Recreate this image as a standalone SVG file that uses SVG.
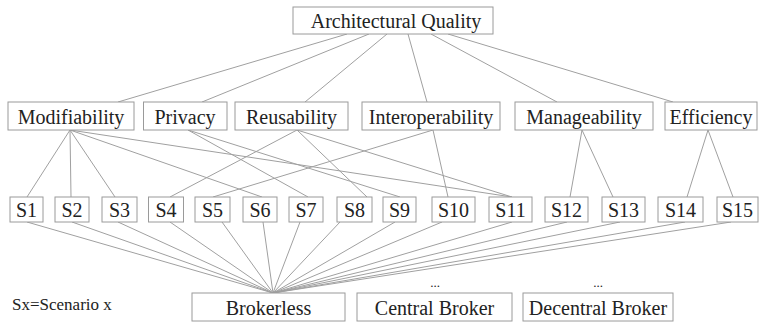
<svg xmlns="http://www.w3.org/2000/svg" width="760" height="324" viewBox="0 0 760 324">
<style>
rect{fill:#fff;stroke:#9a9a9a;stroke-width:1}
text{font-family:"Liberation Serif","Times New Roman",Times,"DejaVu Serif","Nimbus Roman","Noto Serif",serif;fill:#222;text-anchor:middle}
.t{font-size:20px}
.s{font-size:17px;text-anchor:start}
.d{font-size:13px}
#connectors line{stroke:#a0a0a0;stroke-width:1}
</style>
<rect x="0" y="0" width="760" height="324" style="fill:#fff;stroke:none"/>
<g id="connectors">
<line x1="347" y1="34" x2="118" y2="102"/>
<line x1="369" y1="34" x2="202" y2="102"/>
<line x1="387" y1="34" x2="305" y2="102"/>
<line x1="408" y1="34" x2="427" y2="102"/>
<line x1="431" y1="34" x2="557" y2="102"/>
<line x1="448" y1="34" x2="673" y2="102"/>
<line x1="70" y1="130" x2="27" y2="197"/>
<line x1="70" y1="130" x2="71" y2="197"/>
<line x1="70" y1="130" x2="115" y2="197"/>
<line x1="70" y1="130" x2="262" y2="197"/>
<line x1="70" y1="130" x2="512" y2="197"/>
<line x1="188" y1="130" x2="308" y2="197"/>
<line x1="188" y1="130" x2="400" y2="197"/>
<line x1="297" y1="130" x2="170" y2="197"/>
<line x1="297" y1="130" x2="367" y2="197"/>
<line x1="297" y1="130" x2="512" y2="197"/>
<line x1="433" y1="130" x2="213" y2="197"/>
<line x1="433" y1="130" x2="448" y2="197"/>
<line x1="582" y1="130" x2="570" y2="197"/>
<line x1="582" y1="130" x2="613" y2="197"/>
<line x1="708" y1="130" x2="687" y2="197"/>
<line x1="708" y1="130" x2="733" y2="197"/>
<line x1="27" y1="222" x2="273" y2="293"/>
<line x1="72" y1="222" x2="273" y2="293"/>
<line x1="118" y1="222" x2="273" y2="293"/>
<line x1="170" y1="222" x2="273" y2="293"/>
<line x1="222" y1="222" x2="273" y2="293"/>
<line x1="263" y1="222" x2="273" y2="293"/>
<line x1="300" y1="222" x2="273" y2="293"/>
<line x1="340" y1="222" x2="273" y2="293"/>
<line x1="395" y1="222" x2="273" y2="293"/>
<line x1="442" y1="222" x2="273" y2="293"/>
<line x1="512" y1="222" x2="273" y2="293"/>
<line x1="567" y1="222" x2="273" y2="293"/>
<line x1="620" y1="222" x2="273" y2="293"/>
<line x1="685" y1="222" x2="273" y2="293"/>
<line x1="731" y1="222" x2="273" y2="293"/>
</g>
<g id="aq"><rect x="293" y="7" width="200" height="27"/><text class="t" x="396" y="28">Architectural Quality</text></g>
<g id="modifiability"><rect x="8" y="102" width="126" height="28"/><text class="t" x="71" y="124">Modifiability</text></g>
<g id="privacy"><rect x="143.5" y="102" width="83.5" height="28"/><text class="t" x="185" y="124">Privacy</text></g>
<g id="reusability"><rect x="235" y="102" width="113" height="28"/><text class="t" x="291.5" y="124">Reusability</text></g>
<g id="interoperability"><rect x="362" y="102" width="138" height="28"/><text class="t" x="431" y="124">Interoperability</text></g>
<g id="manageability"><rect x="515" y="102" width="138" height="28"/><text class="t" x="584" y="124">Manageability</text></g>
<g id="efficiency"><rect x="665" y="102" width="92" height="28"/><text class="t" x="711" y="124">Efficiency</text></g>
<g id="s1"><rect x="10" y="197" width="33" height="25"/><text class="t" x="26.5" y="217">S1</text></g>
<g id="s2"><rect x="55" y="197" width="34" height="25"/><text class="t" x="72" y="217">S2</text></g>
<g id="s3"><rect x="102" y="197" width="35" height="25"/><text class="t" x="119.5" y="217">S3</text></g>
<g id="s4"><rect x="148.5" y="197" width="35" height="25"/><text class="t" x="166" y="217">S4</text></g>
<g id="s5"><rect x="195" y="197" width="35" height="25"/><text class="t" x="212.5" y="217">S5</text></g>
<g id="s6"><rect x="243" y="197" width="34" height="25"/><text class="t" x="260" y="217">S6</text></g>
<g id="s7"><rect x="289" y="197" width="34" height="25"/><text class="t" x="306" y="217">S7</text></g>
<g id="s8"><rect x="337" y="197" width="35" height="25"/><text class="t" x="354.5" y="217">S8</text></g>
<g id="s9"><rect x="383" y="197" width="33" height="25"/><text class="t" x="399.5" y="217">S9</text></g>
<g id="s10"><rect x="432" y="197" width="43" height="25"/><text class="t" x="453.5" y="217">S10</text></g>
<g id="s11"><rect x="489" y="197" width="43" height="25"/><text class="t" x="510.5" y="217">S11</text></g>
<g id="s12"><rect x="545" y="197" width="43" height="25"/><text class="t" x="566.5" y="217">S12</text></g>
<g id="s13"><rect x="602" y="197" width="43" height="25"/><text class="t" x="623.5" y="217">S13</text></g>
<g id="s14"><rect x="658" y="197" width="45" height="25"/><text class="t" x="680.5" y="217">S14</text></g>
<g id="s15"><rect x="717" y="197" width="41" height="25"/><text class="t" x="737.5" y="217">S15</text></g>
<g id="brokerless"><rect x="192" y="293" width="153" height="28"/><text class="t" x="268.5" y="315">Brokerless</text></g>
<g id="central"><text class="d" x="435" y="287">...</text><rect x="357" y="293" width="155" height="28"/><text class="t" x="434.5" y="315">Central Broker</text></g>
<g id="decentral"><text class="d" x="598" y="287">...</text><rect x="523" y="293" width="150" height="28"/><text class="t" x="598" y="315">Decentral Broker</text></g>
<g id="legend"><text class="s" x="12" y="310">Sx=Scenario x</text></g>
</svg>
